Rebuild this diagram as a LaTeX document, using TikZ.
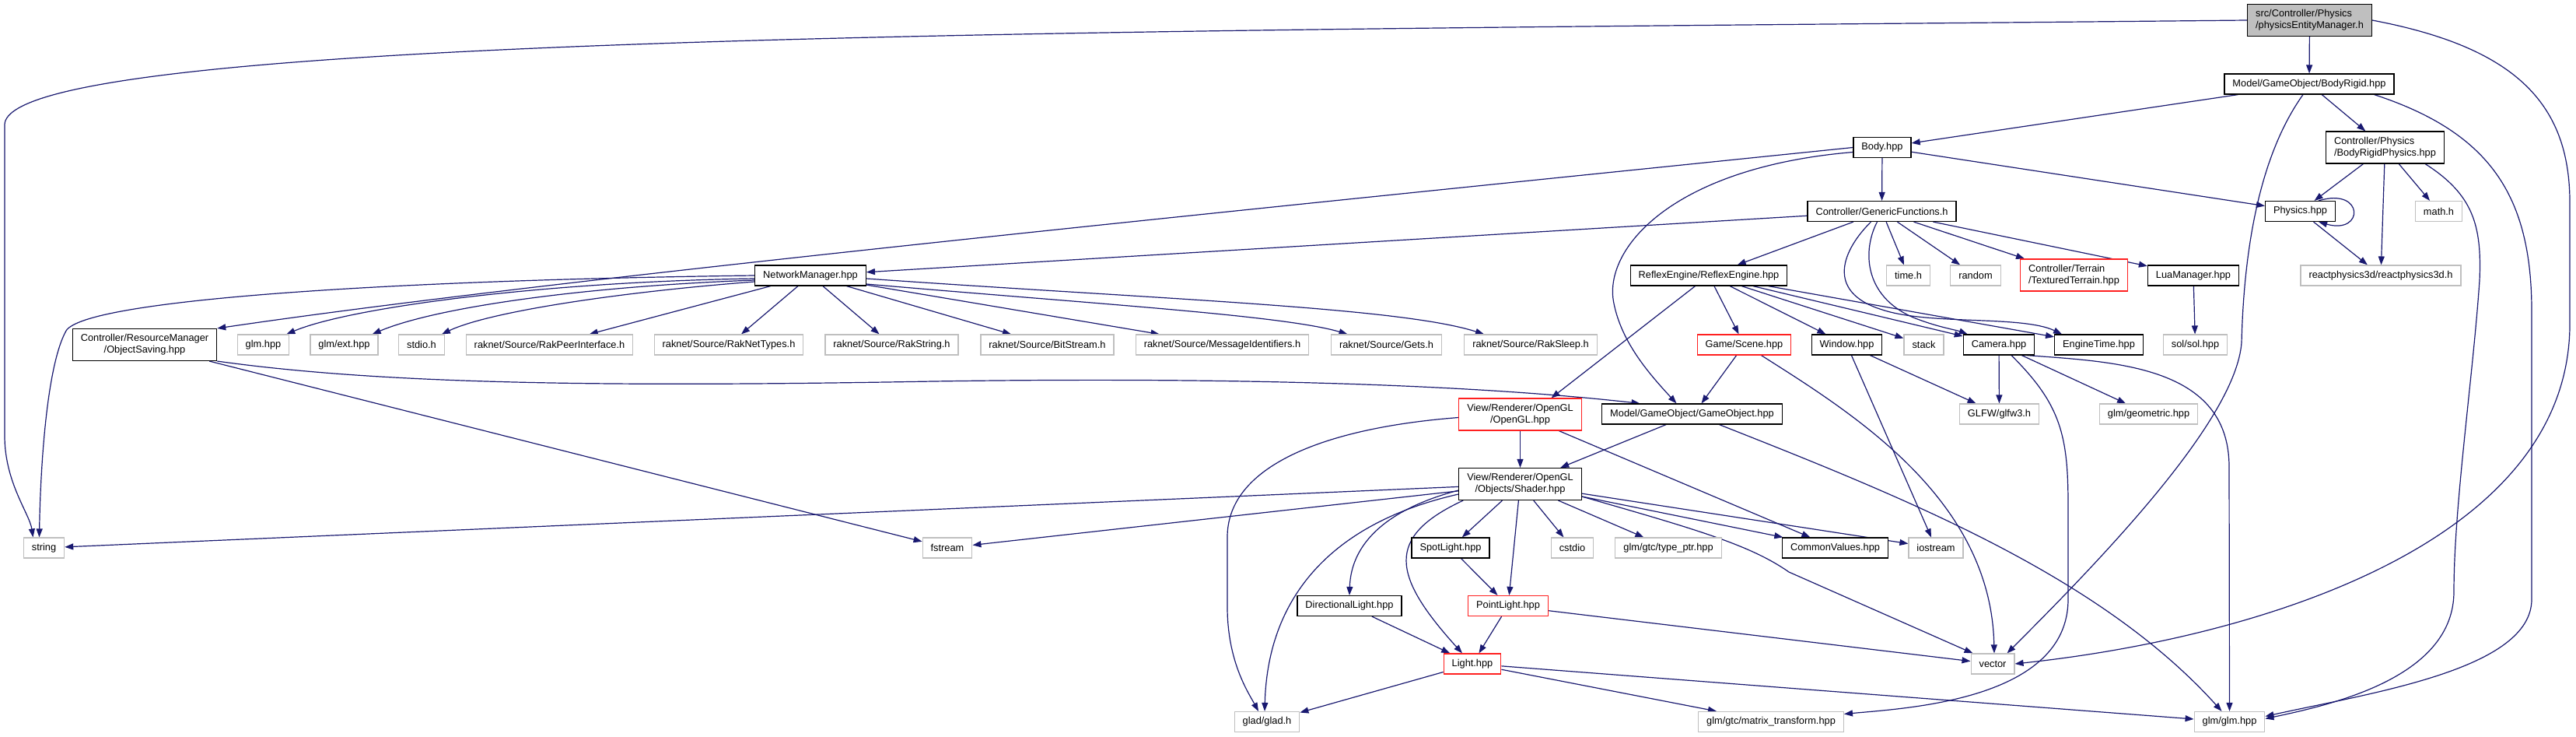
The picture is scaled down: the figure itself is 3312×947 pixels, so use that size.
\documentclass[tikz,border=0pt]{standalone}
\usepackage{fontspec}
\setmainfont{Liberation Sans}
\usetikzlibrary{arrows.meta}
\definecolor{edgeblue}{HTML}{191970}
\definecolor{sysgray}{HTML}{BFBFBF}
\definecolor{missred}{HTML}{FF2020}
\pgfdeclarelayer{canvas}
\pgfdeclarelayer{edges}
\pgfsetlayers{canvas,edges,main}

\begin{document}
\begin{tikzpicture}[x=1pt, y=-1pt, >={Triangle[length=11pt,width=8pt]},
    hdr/.style={draw=black, line width=1.2pt, fill=white, font=\fontsize{12.8}{15}\selectfont,
      inner xsep=10.5pt, inner ysep=7pt, minimum height=26pt},
    sys/.style={hdr, draw=sysgray},
    miss/.style={hdr, draw=missred},
    root/.style={hdr, fill=sysgray},
    dep/.style={->, draw=edgeblue, line width=1.2pt}]

    % 1. Canvas (pixel units, y pointing down)
    \begin{pgfonlayer}{canvas}
    \fill[white] (0,0) rectangle (3312,947);
    \end{pgfonlayer}
    \useasboundingbox (0,0) rectangle (3312,947);

    % 2. Header nodes, row by row
    \node[root, align=left] (top) at (2969.5,26) {src/Controller/Physics\\/physicsEntityManager.h};
    \node[hdr] (bodyrigid) at (2969,108) {Model/GameObject/BodyRigid.hpp};
    \node[hdr] (body) at (2420,189.5) {Body.hpp};
    \node[hdr, align=left] (brphys) at (3066.5,189.5) {Controller/Physics\\/BodyRigidPhysics.hpp};
    \node[hdr] (generic) at (2419.5,271.5) {Controller/GenericFunctions.h};
    \node[hdr] (physics) at (2957.5,271.5) {Physics.hpp};
    \node[sys] (mathh) at (3135.5,271.5) {math.h};

    \node[hdr] (netmgr) at (1042,354) {NetworkManager.hpp};
    \node[hdr] (reflex) at (2197,354) {ReflexEngine/ReflexEngine.hpp};
    \node[sys] (timeh) at (2453.5,354) {time.h};
    \node[sys] (random) at (2540,354) {random};
    \node[miss, align=left] (terrain) at (2666.5,353.5) {Controller/Terrain\\/TexturedTerrain.hpp};
    \node[hdr] (luamgr) at (2820,354) {LuaManager.hpp};
    \node[sys] (rp3d) at (3061,354) {reactphysics3d/reactphysics3d.h};

    \node[hdr, align=center] (objsave) at (186,443) {Controller/ResourceManager\\/ObjectSaving.hpp};
    \node[sys] (glmhpp) at (338.5,443) {glm.hpp};
    \node[sys] (glmext) at (442.5,443) {glm/ext.hpp};
    \node[sys] (stdio) at (542,443) {stdio.h};
    \node[sys] (rakpeer) at (706.5,443) {raknet/Source/RakPeerInterface.h};
    \node[sys] (raknettypes) at (937,443) {raknet/Source/RakNetTypes.h};
    \node[sys] (rakstring) at (1146.5,443) {raknet/Source/RakString.h};
    \node[sys] (bitstream) at (1346.5,443) {raknet/Source/BitStream.h};
    \node[sys] (msgid) at (1571.5,443) {raknet/Source/MessageIdentifiers.h};
    \node[sys] (gets) at (1782.5,443) {raknet/Source/Gets.h};
    \node[sys] (raksleep) at (1968,443) {raknet/Source/RakSleep.h};
    \node[miss] (scene) at (2242.5,443) {Game/Scene.hpp};
    \node[hdr] (window) at (2374.5,443) {Window.hpp};
    \node[sys] (stack) at (2473.5,443) {stack};
    \node[hdr] (camera) at (2570,443) {Camera.hpp};
    \node[hdr] (enginetime) at (2698.5,443) {EngineTime.hpp};
    \node[sys] (sol) at (2822.5,443) {sol/sol.hpp};

    \node[miss, align=center] (opengl) at (1954.5,532.5) {View/Renderer/OpenGL\\/OpenGL.hpp};
    \node[hdr] (gameobj) at (2175.5,532) {Model/GameObject/GameObject.hpp};
    \node[sys] (glfw) at (2570.5,532) {GLFW/glfw3.h};
    \node[sys] (geometric) at (2762.5,532) {glm/geometric.hpp};

    \node[hdr, align=center] (shader) at (1954.5,622) {View/Renderer/OpenGL\\/Objects/Shader.hpp};

    \node[sys] (string) at (56.5,704) {string};
    \node[sys] (fstream) at (1218,704) {fstream};
    \node[hdr] (spotlight) at (1865,704) {SpotLight.hpp};
    \node[sys] (cstdio) at (2021.5,704) {cstdio};
    \node[sys] (typeptr) at (2145,704) {glm/gtc/type\_ptr.hpp};
    \node[hdr] (commonvalues) at (2359.5,704) {CommonValues.hpp};
    \node[sys] (iostream) at (2489,704) {iostream};

    \node[hdr] (dirlight) at (1735,778.5) {DirectionalLight.hpp};
    \node[miss] (pointlight) at (1939,778.5) {PointLight.hpp};

    \node[miss] (light) at (1893,853) {Light.hpp};
    \node[sys] (vector) at (2562,853) {vector};

    \node[sys] (glad) at (1629,927.5) {glad/glad.h};
    \node[sys] (matrix) at (2277,927.5) {glm/gtc/matrix\_transform.hpp};
    \node[sys] (glmglm) at (2866.5,927.5) {glm/glm.hpp};

    % 3. Include edges (behind the boxes)
    \begin{pgfonlayer}{edges}
    % root
    \draw[dep] (top) -- (bodyrigid);
    \draw[dep] (top.west) .. controls (1500,40) and (10,40) .. (6,160) -- (6,560) .. controls (6,620) and (38,660) .. ([xshift=-14pt]string.north);
    \draw[dep] (top.east) .. controls (3230,60) and (3304,130) .. (3304,260) -- (3304,420) .. controls (3300,700) and (2900,820) .. (vector.east);

    % BodyRigid
    \draw[dep] (bodyrigid) -- (body);
    \draw[dep] (bodyrigid) -- (brphys);
    \draw[dep] ([xshift=-8pt]bodyrigid.south) .. controls (2905,200) and (2885,320) .. (2882,440) .. controls (2875,540) and (2700,720) .. ([xshift=-10pt]vector.north east);
    \draw[dep] ([xshift=-26pt]bodyrigid.south east) .. controls (3200,170) and (3255,250) .. (3255,400) -- (3255,770) .. controls (3255,860) and (3050,890) .. ([yshift=7pt]glmglm.east);

    % BodyRigidPhysics and Physics
    \draw[dep] (brphys) -- (physics);
    \draw[dep] (brphys) -- (rp3d);
    \draw[dep] (brphys) -- (mathh);
    \draw[dep] ([xshift=-25pt]brphys.south east) .. controls (3180,250) and (3191,290) .. (3188,360) .. controls (3180,480) and (3155,650) .. (3155,760) .. controls (3155,870) and (3000,905) .. ([yshift=4pt]glmglm.east);
    \draw[dep] ([xshift=-22pt]physics.north east) .. controls (3040,240) and (3040,302) .. ([xshift=-22pt]physics.south east);
    \draw[dep] (physics) -- (rp3d);

    % Body
    \draw[dep] (body) -- (generic);
    \draw[dep] (body) -- (physics);
    \draw[dep] (body.west) .. controls (1500,280) and (700,360) .. (objsave.north east);
    \draw[dep] ([yshift=-6pt]body.west) .. controls (2150,215) and (2060,320) .. (2075,390) .. controls (2085,440) and (2120,480) .. ([xshift=-20pt]gameobj.north);

    % GenericFunctions
    \draw[dep] (generic) -- (netmgr);
    \draw[dep] (generic) -- (reflex);
    \draw[dep] (generic) -- (timeh);
    \draw[dep] (generic) -- (random);
    \draw[dep] (generic) -- (terrain);
    \draw[dep] (generic) -- (luamgr);
    \draw[dep] ([xshift=-6pt]generic.south) .. controls (2395,320) and (2395,380) .. (2460,408) .. controls (2490,420) and (2515,424) .. ([xshift=6pt]camera.north west);
    \draw[dep] ([xshift=-14pt]generic.south) .. controls (2370,320) and (2345,375) .. (2420,398) .. controls (2480,418) and (2600,405) .. ([xshift=10pt]enginetime.north west);
    \draw[dep] (luamgr) -- (sol);

    % ReflexEngine
    \draw[dep] (reflex) -- ([xshift=40pt]opengl.north);
    \draw[dep] (reflex) -- (scene);
    \draw[dep] (reflex) -- (window);
    \draw[dep] (reflex) -- (stack);
    \draw[dep] (reflex) -- (camera);
    \draw[dep] (reflex) -- (enginetime);

    % NetworkManager
    \draw[dep] (netmgr.west) .. controls (500,360) and (110,385) .. (85,425) .. controls (60,470) and (52,600) .. ([xshift=-6pt]string.north);
    \draw[dep] ([yshift=-4pt]netmgr.west) .. controls (700,362) and (450,395) .. ([xshift=-4pt]glmhpp.north east);
    \draw[dep] ([yshift=-6pt]netmgr.west) .. controls (750,368) and (560,395) .. ([xshift=-8pt]glmext.north east);
    \draw[dep] ([yshift=-8pt]netmgr.west) .. controls (800,375) and (630,400) .. ([xshift=-4pt]stdio.north east);
    \draw[dep] (netmgr) -- (rakpeer);
    \draw[dep] (netmgr) -- (raknettypes);
    \draw[dep] (netmgr) -- (rakstring);
    \draw[dep] (netmgr) -- (bitstream);
    \draw[dep] (netmgr) -- (msgid);
    \draw[dep] ([yshift=-11pt]netmgr.east) .. controls (1400,390) and (1650,405) .. ([xshift=-50pt]gets.north);
    \draw[dep] ([yshift=-4pt]netmgr.east) .. controls (1500,385) and (1800,395) .. ([xshift=-60pt]raksleep.north);

    % ObjectSaving
    \draw[dep] (objsave) -- (fstream);
    \draw[dep] (objsave.south east) .. controls (500,495) and (800,497) .. (1200,490) .. controls (1600,484) and (1900,495) .. ([xshift=-67pt]gameobj.north);

    % Scene, Window, Camera
    \draw[dep] (scene) -- ([xshift=12pt]gameobj.north);
    \draw[dep] ([xshift=22pt]scene.south) .. controls (2380,530) and (2560,640) .. ([xshift=2pt]vector.north);
    \draw[dep] (window) -- (glfw);
    \draw[dep] (window) -- (iostream);
    \draw[dep] (camera) -- (glfw);
    \draw[dep] (camera) -- (geometric);
    \draw[dep] ([xshift=36pt]camera.south) .. controls (2720,465) and (2866,470) .. (2866,600) -- (glmglm.north);
    \draw[dep] ([xshift=16pt]camera.south) .. controls (2650,520) and (2659,560) .. (2659,650) -- (2659,770) .. controls (2659,900) and (2450,910) .. ([yshift=10pt]matrix.east);

    % GameObject and OpenGL
    \draw[dep] (gameobj) -- (shader);
    \draw[dep] ([xshift=35pt]gameobj.south) .. controls (2450,640) and (2700,740) .. ([xshift=-10pt]glmglm.north);
    \draw[dep] (opengl) -- (shader);
    \draw[dep] (opengl) -- (commonvalues);
    \draw[dep] ([yshift=-4pt]opengl.west) .. controls (1700,550) and (1578,600) .. (1578,690) -- (1578,780) .. controls (1578,850) and (1605,890) .. ([xshift=-11pt]glad.north);

    % Shader
    \draw[dep] (shader) -- (string);
    \draw[dep] (shader) -- (fstream);
    \draw[dep] ([yshift=-13pt]shader.west) .. controls (1720,670) and (1630,760) .. ([xshift=-3pt]glad.north);
    \draw[dep] ([yshift=-8pt]shader.west) .. controls (1780,655) and (1737,700) .. (dirlight.north);
    \draw[dep] ([xshift=6pt]shader.south west) .. controls (1780,690) and (1790,740) .. ([xshift=-13pt]light.north);
    \draw[dep] (shader) -- (spotlight);
    \draw[dep] (shader) -- (pointlight);
    \draw[dep] (shader) -- (cstdio);
    \draw[dep] (shader) -- (typeptr);
    \draw[dep] (shader) -- (commonvalues);
    \draw[dep] (shader) -- (iostream);
    \draw[dep] ([yshift=-16pt]shader.east) .. controls (2180,680) and (2250,700) .. (2300,735) -- ([xshift=3pt]vector.north west);

    % lights
    \draw[dep] (spotlight) -- (pointlight);
    \draw[dep] (dirlight) -- (light);
    \draw[dep] (pointlight) -- (light);
    \draw[dep] (pointlight) -- (vector);
    \draw[dep] (light) -- (glad);
    \draw[dep] (light) -- (matrix);
    \draw[dep] (light) -- (glmglm);
    \end{pgfonlayer}

  \end{tikzpicture}
\end{document}
